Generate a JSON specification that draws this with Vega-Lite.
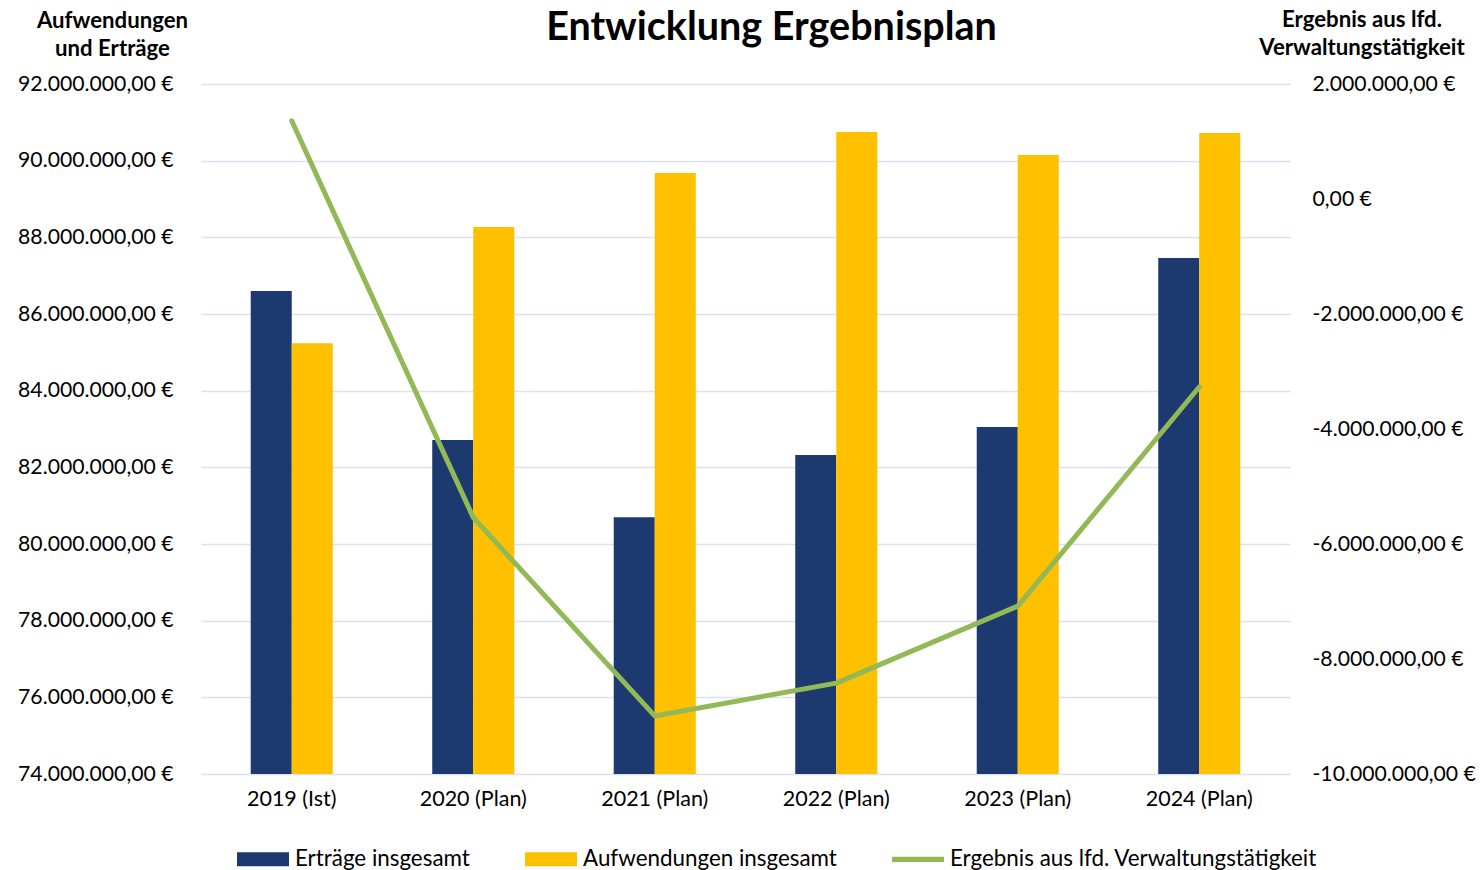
{
  "$schema": "https://vega.github.io/schema/vega-lite/v6.json",
  "width": 1089,
  "height": 690,
  "autosize": {"type": "none"},
  "padding": {"left": 201, "top": 84, "right": 192, "bottom": 96},
  "background": "white",
  "config": {
    "font": "Lato",
    "view": {"stroke": null},
    "axis": {"labelColor": "#000000", "titleColor": "#000000"},
    "legend": {"labelColor": "#000000"}
  },
  "title": {
    "text": "Entwicklung Ergebnisplan",
    "fontSize": 39.5,
    "fontWeight": "bold",
    "font": "Lato",
    "color": "#000000",
    "anchor": "middle",
    "frame": "group",
    "dx": 26,
    "offset": 0,
    "dy": 40
  },
  "datasets": {
    "bars": [
      {"year": "2019 (Ist)", "series": "Erträge insgesamt", "value": 86600000},
      {"year": "2019 (Ist)", "series": "Aufwendungen insgesamt", "value": 85240000},
      {"year": "2020 (Plan)", "series": "Erträge insgesamt", "value": 82710000},
      {"year": "2020 (Plan)", "series": "Aufwendungen insgesamt", "value": 88270000},
      {"year": "2021 (Plan)", "series": "Erträge insgesamt", "value": 80700000},
      {"year": "2021 (Plan)", "series": "Aufwendungen insgesamt", "value": 89680000},
      {"year": "2022 (Plan)", "series": "Erträge insgesamt", "value": 82320000},
      {"year": "2022 (Plan)", "series": "Aufwendungen insgesamt", "value": 90750000},
      {"year": "2023 (Plan)", "series": "Erträge insgesamt", "value": 83050000},
      {"year": "2023 (Plan)", "series": "Aufwendungen insgesamt", "value": 90150000},
      {"year": "2024 (Plan)", "series": "Erträge insgesamt", "value": 87460000},
      {"year": "2024 (Plan)", "series": "Aufwendungen insgesamt", "value": 90720000}
    ],
    "line": [
      {"year": "2019 (Ist)", "value": 1360000},
      {"year": "2020 (Plan)", "value": -5540000},
      {"year": "2021 (Plan)", "value": -8990000},
      {"year": "2022 (Plan)", "value": -8420000},
      {"year": "2023 (Plan)", "value": -7080000},
      {"year": "2024 (Plan)", "value": -3270000}
    ]
  },
  "layer": [
    {
      "data": {"name": "bars"},
      "mark": {"type": "bar"},
      "encoding": {
        "x": {
          "field": "year",
          "type": "nominal",
          "sort": null,
          "scale": {
            "domain": ["2019 (Ist)", "2020 (Plan)", "2021 (Plan)", "2022 (Plan)", "2023 (Plan)", "2024 (Plan)"],
            "paddingInner": 0.548,
            "paddingOuter": 0.274
          },
          "axis": {
            "title": null,
            "labelAngle": 0,
            "labelFontSize": 21.5,
            "labelPadding": 14,
            "domain": false,
            "ticks": false
          }
        },
        "xOffset": {
          "field": "series",
          "type": "nominal",
          "scale": {"domain": ["Erträge insgesamt", "Aufwendungen insgesamt"], "paddingInner": 0, "paddingOuter": 0}
        },
        "y": {
          "field": "value",
          "type": "quantitative",
          "scale": {"domain": [74000000, 92000000], "zero": false, "nice": false},
          "axis": {
            "values": [74000000, 76000000, 78000000, 80000000, 82000000, 84000000, 86000000, 88000000, 90000000, 92000000],
            "labelExpr": "replace(replace(replace(format(datum.value, ',.2f'), regexp(',', 'g'), '#'), regexp('\\\\.', 'g'), ','), regexp('#', 'g'), '.') + ' €'",
            "labelFontSize": 21.2,
            "labelPadding": 28,
            "domain": false,
            "ticks": false,
            "grid": true,
            "gridColor": "#d9e2f3",
            "gridWidth": 1.5,
            "title": ["Aufwendungen", "und Erträge"],
            "titleAngle": 0,
            "titleAlign": "center",
            "titleBaseline": "alphabetic",
            "titleX": -89,
            "titleY": -57,
            "titleFontSize": 22.2,
            "titleFontWeight": "bold",
            "titleLineHeight": 28.5
          }
        },
        "y2": {"datum": 74000000},
        "color": {
          "field": "series",
          "type": "nominal",
          "scale": {
            "domain": ["Erträge insgesamt", "Aufwendungen insgesamt", "Ergebnis aus lfd. Verwaltungstätigkeit"],
            "range": ["#1c3a70", "#ffc000", "#92b956"]
          },
          "legend": {
            "orient": "none",
            "legendX": 35,
            "legendY": 748,
            "direction": "horizontal",
            "title": null,
            "padding": 0,
            "symbolSize": 2704,
            "symbolType": "M-1,-0.27H1V0.27H-1Z",
            "labelFontSize": 22.4,
            "labelOffset": 5,
            "labelLimit": 0,
            "columnPadding": 54,
            "encode": {
              "symbols": {
                "update": {
                  "shape": {"signal": "datum.value === 'Ergebnis aus lfd. Verwaltungstätigkeit' ? 'M-1,-0.1H1V0.1H-1Z' : 'M-1,-0.27H1V0.27H-1Z'"}
                }
              }
            }
          }
        }
      }
    },
    {
      "data": {"name": "line"},
      "mark": {"type": "line", "color": "#92b956", "strokeWidth": 5, "strokeCap": "round", "strokeJoin": "round"},
      "encoding": {
        "x": {"field": "year", "type": "nominal", "sort": null},
        "y": {
          "field": "value",
          "type": "quantitative",
          "scale": {"domain": [-10000000, 2000000], "zero": false, "nice": false},
          "axis": {
            "orient": "right",
            "values": [-10000000, -8000000, -6000000, -4000000, -2000000, 0, 2000000],
            "labelExpr": "replace(replace(replace(replace(format(datum.value, ',.2f'), regexp(',', 'g'), '#'), regexp('\\\\.', 'g'), ','), regexp('#', 'g'), '.'), '−', '-') + ' €'",
            "labelFontSize": 21.2,
            "labelAlign": "left",
            "labelPadding": 22,
            "domain": false,
            "ticks": false,
            "grid": false,
            "title": ["Ergebnis aus lfd.", "Verwaltungstätigkeit"],
            "titleAngle": 0,
            "titleAlign": "center",
            "titleBaseline": "alphabetic",
            "titleX": 71.5,
            "titleY": -58,
            "titleFontSize": 22.2,
            "titleFontWeight": "bold",
            "titleLineHeight": 28.5
          }
        }
      }
    }
  ],
  "resolve": {"scale": {"y": "independent"}}
}
